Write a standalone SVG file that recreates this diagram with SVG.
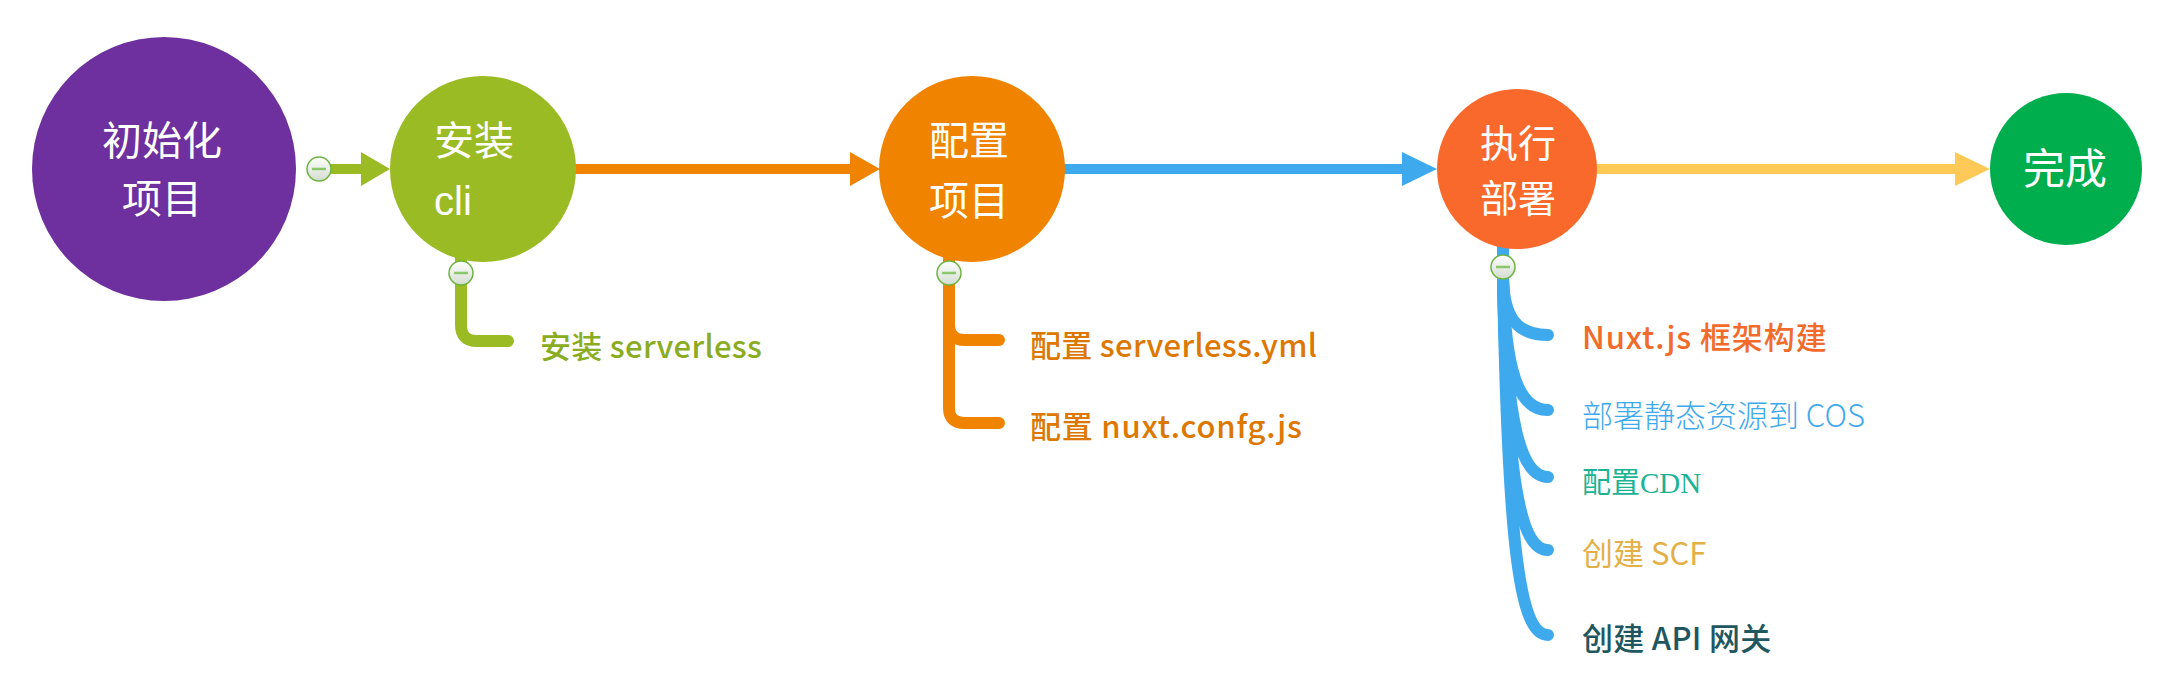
<svg xmlns="http://www.w3.org/2000/svg" width="2160" height="674" viewBox="0 0 2160 674">
<defs>
<linearGradient id="cg" x1="0" y1="0" x2="0" y2="1"><stop offset="0" stop-color="#ffffff"/><stop offset="1" stop-color="#d3dccf"/></linearGradient>
<style>
.nt{font-family:"Noto Sans CJK SC","Noto Sans",sans-serif;font-size:40px;fill:#ffffff}
.lt{font-family:"Noto Sans CJK SC","Noto Sans",sans-serif;font-size:31px}
.md{font-weight:500;letter-spacing:0.3px}
.ln{fill:none;stroke-width:10}
.br{fill:none;stroke-width:12;stroke-linecap:round;stroke-linejoin:round}
.cc{fill:url(#cg);stroke:#6cb33e;stroke-width:1.5}
.cm{stroke:#8cc66b;stroke-width:2.5}
</style>
</defs>
<rect width="2160" height="674" fill="#ffffff"/>
<g id="connectors">
<line class="ln" x1="330" y1="169" x2="363" y2="169" stroke="#9bbb25"/>
<polygon points="361,152 390,169 361,186" fill="#9bbb25"/>
<line class="ln" x1="570" y1="169" x2="852" y2="169" stroke="#f08300"/>
<polygon points="850,152 880,169 850,186" fill="#f08300"/>
<line class="ln" x1="1060" y1="169" x2="1404" y2="169" stroke="#3fa9ee"/>
<polygon points="1402,152 1437,169 1402,186" fill="#3fa9ee"/>
<line class="ln" x1="1594" y1="169" x2="1957" y2="169" stroke="#ffc957"/>
<polygon points="1955,152 1990,169 1955,186" fill="#ffc957"/>
<path class="br" stroke="#9bbb25" d="M461,255 L461,325 Q461,341 477,341 L508,341"/>
<path class="br" stroke="#f08300" d="M949,255 L949,408 Q949,423 965,423 L999,423 M949,324 Q949,340 965,340 L999,340"/>
<g class="br" stroke="#3fa9ee">
<path d="M1503,240 L1503,279"/>
<path d="M1503,279 C1504,315 1515,335 1548,335"/>
<path d="M1503,279 C1505,370 1518,410 1548,410"/>
<path d="M1503,279 C1506,420 1520,477 1548,477"/>
<path d="M1503,279 C1507,480 1520,550 1548,550"/>
<path d="M1503,279 C1508,550 1520,635 1548,635"/>
</g>
</g>
<g id="n-init">
<circle cx="164" cy="169" r="132" fill="#6e309e"/>
<text class="nt" x="162" y="155" text-anchor="middle">初始化</text>
<text class="nt" x="162" y="213" text-anchor="middle">项目</text>
</g>
<g id="n-collapse-init">
<circle class="cc" cx="319" cy="169" r="12"/><line class="cm" x1="312" y1="169" x2="326" y2="169"/>
</g>
<g id="n-cli">
<circle cx="483" cy="169" r="93" fill="#9bbb25"/>
<text class="nt" x="434" y="155">安装</text>
<text class="nt" x="434" y="215" style="font-family:'Liberation Sans',sans-serif">cli</text>
<circle class="cc" cx="461" cy="273" r="12"/><line class="cm" x1="454" y1="273" x2="468" y2="273"/>
</g>
<g id="n-sls">
<text class="lt md" x="540" y="358" fill="#8aac22">安装 serverless</text>
</g>
<g id="n-config">
<circle cx="972" cy="169" r="93" fill="#f08300"/>
<text class="nt" x="929" y="155">配置</text>
<text class="nt" x="929" y="215">项目</text>
<circle class="cc" cx="949" cy="273" r="12"/><line class="cm" x1="942" y1="273" x2="956" y2="273"/>
</g>
<g id="n-yml"><text class="lt md" x="1030" y="357" fill="#dc7800">配置 serverless.yml</text></g>
<g id="n-nuxtcfg"><text class="lt md" x="1030" y="438" fill="#dc7800" style="letter-spacing:0.8px">配置 nuxt.confg.js</text></g>
<g id="n-deploy">
<circle cx="1517" cy="169" r="80" fill="#f9692b"/>
<text class="nt" x="1480" y="157" style="font-size:38px">执行</text>
<text class="nt" x="1480" y="212" style="font-size:38px">部署</text>
<circle class="cc" cx="1503" cy="267" r="12"/><line class="cm" x1="1496" y1="267" x2="1510" y2="267"/>
</g>
<g id="n-done">
<circle cx="2066" cy="169" r="76" fill="#00ae4d"/>
<text class="nt" x="2065" y="184" text-anchor="middle" style="font-size:42px">完成</text>
</g>
<g id="n-build"><text class="lt md" x="1582" y="349" fill="#f26b2a" style="letter-spacing:0.9px">Nuxt.js 框架构建</text></g>
<g id="n-cos"><text class="lt" x="1582" y="427" fill="#3fa9ee" font-weight="300">部署静态资源到 COS</text></g>
<g id="n-cdn"><text class="lt" x="1582" y="493" fill="#1ab394" style="font-size:29px">配置<tspan style="font-family:'Liberation Serif',serif">CDN</tspan></text></g>
<g id="n-scf"><text class="lt" x="1582" y="565" fill="#e3b047">创建 SCF</text></g>
<g id="n-api"><text class="lt md" x="1582" y="650" fill="#1f5760">创建 API 网关</text></g>
</svg>
